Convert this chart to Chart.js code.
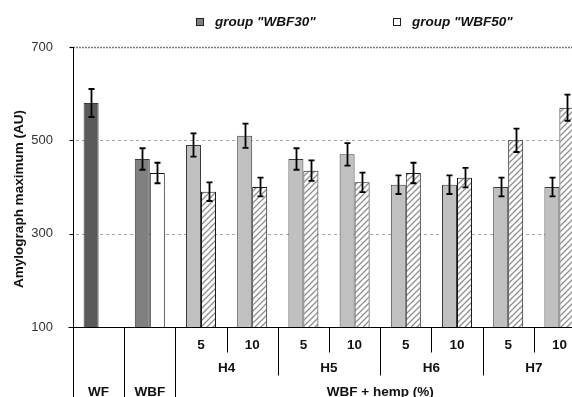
<!DOCTYPE html>
<html>
<head>
<meta charset="utf-8">
<script src="https://cdn.jsdelivr.net/npm/chart.js@4/dist/chart.umd.min.js"></script>
<style>
html,body{margin:0;padding:0;background:#fff;overflow:hidden;}
canvas{display:block;}
</style>
</head>
<body>
<canvas id="c" width="600" height="397"></canvas>
<script>
// ---- data ----
const categories = ['WF', 'WBF', 'H4', 'H4', 'H5', 'H5', 'H6', 'H6', 'H7', 'H7'];
const hempLevels = ['', '', '5', '10', '5', '10', '5', '10', '5', '10'];
const hempTypes = ['H4', 'H5', 'H6', 'H7'];
const seriesNames = ['group "WBF30"', 'group "WBF50"'];
const wbf30 = [580, 460, 490, 510, 460, 470, 405, 405, 400, 400];
const wbf30Err = [30, 23, 25, 26, 23, 24, 20, 20, 20, 20];
const wbf50 = [null, 430, 390, 400, 435, 410, 430, 420, 500, 570];
const wbf50Err = [null, 22, 20, 20, 22, 21, 22, 21, 25, 28];
const yTicks = [100, 300, 500, 700];

// ---- styles ----
const FONT = '"Liberation Sans", Arial, sans-serif';
function hatch() {
  const c = document.createElement('canvas');
  c.width = 6; c.height = 6;
  const g = c.getContext('2d');
  g.fillStyle = '#fff'; g.fillRect(0, 0, 6, 6);
  g.strokeStyle = '#8f8f8f'; g.lineWidth = 1.3;
  g.beginPath();
  g.moveTo(0, 6); g.lineTo(6, 0);
  g.moveTo(-1, 1); g.lineTo(1, -1);
  g.moveTo(5, 7); g.lineTo(7, 5);
  g.stroke();
  return g.createPattern(c, 'repeat');
}
const hatchPat = hatch();
const c30 = categories.map((c, i) => i === 0 ? '#5a5a5a' : (i === 1 ? '#808080' : '#c0c0c0'));
const c50 = categories.map((c, i) => i === 1 ? '#ffffff' : hatchPat);
const labels = categories.map((c, i) => (c + ' ' + hempLevels[i]).trim());

const decor = {
  id: 'decor',
  beforeDatasetsDraw(chart) {
    const { ctx, chartArea: a, scales: { y } } = chart;
    ctx.save();
    yTicks.forEach(v => {
      const py = Math.round(y.getPixelForValue(v)) + 0.5;
      ctx.beginPath();
      if (v === 100) return;
      if (v === 700) {
        ctx.strokeStyle = '#7a7a7a'; ctx.lineWidth = 1.6; ctx.setLineDash([2, 1]);
      } else {
        ctx.strokeStyle = '#a8a8a8'; ctx.lineWidth = 1; ctx.setLineDash([3, 3]);
      }
      ctx.moveTo(a.left - 3, py); ctx.lineTo(a.right, py); ctx.stroke();
    });
    ctx.setLineDash([]);
    ctx.restore();
  },
  afterDatasetsDraw(chart) {
    const { ctx, chartArea: a, scales: { x, y } } = chart;
    ctx.save();
    // error bars
    const errs = [wbf30Err, wbf50Err];
    chart.data.datasets.forEach((ds, di) => {
      const meta = chart.getDatasetMeta(di);
      meta.data.forEach((bar, i) => {
        const v = ds.data[i], e = errs[di][i];
        if (v == null || e == null) return;
        const bx = Math.round(bar.x) + 0.5;
        const t = y.getPixelForValue(v + e), b = y.getPixelForValue(v - e);
        ctx.strokeStyle = '#000'; ctx.lineWidth = 1.8;
        ctx.beginPath();
        ctx.moveTo(bx, t); ctx.lineTo(bx, b);
        ctx.moveTo(bx - 3, t); ctx.lineTo(bx + 3, t);
        ctx.moveTo(bx - 3, b); ctx.lineTo(bx + 3, b);
        ctx.stroke();
      });
    });
    // axes
    const by = Math.round(y.getPixelForValue(100)) + 0.5;
    const lx = Math.round(a.left) + 0.5;
    ctx.strokeStyle = '#000'; ctx.lineWidth = 1;
    ctx.beginPath();
    ctx.moveTo(lx - 5, by); ctx.lineTo(a.right, by);
    ctx.moveTo(lx, y.getPixelForValue(700)); ctx.lineTo(lx, chart.height);
    yTicks.forEach(v => {
      const py = Math.round(y.getPixelForValue(v)) + 0.5;
      ctx.moveTo(lx - 4, py); ctx.lineTo(lx, py);
    });
    ctx.stroke();
    // category separators
    const hw = (x.getPixelForValue(1) - x.getPixelForValue(0)) / 2;
    ctx.beginPath();
    for (let i = 0; i < categories.length - 1; i++) {
      const sx = Math.round(x.getPixelForValue(i) + hw) + 0.5;
      let end;
      if (i < 2) end = chart.height;
      else if (categories[i] === categories[i + 1]) end = by + 25;
      else end = by + 48;
      ctx.moveTo(sx, by); ctx.lineTo(sx, end);
    }
    ctx.stroke();
    // labels
    ctx.fillStyle = '#111';
    ctx.textAlign = 'center'; ctx.textBaseline = 'middle';
    ctx.font = 'bold 13.5px ' + FONT;
    hempLevels.forEach((l, i) => { if (l) ctx.fillText(l, x.getPixelForValue(i), by + 18); });
    hempTypes.forEach(h => {
      const idx = categories.map((c, i) => c === h ? i : -1).filter(i => i >= 0);
      const cx = (x.getPixelForValue(idx[0]) + x.getPixelForValue(idx[idx.length - 1])) / 2;
      ctx.fillText(h, cx, by + 41);
    });
    ctx.fillText('WF', x.getPixelForValue(0), by + 65);
    ctx.fillText('WBF', x.getPixelForValue(1), by + 65);
    const hx = (x.getPixelForValue(2) - hw + x.getPixelForValue(categories.length - 1) + hw) / 2;
    ctx.fillText('WBF + hemp (%)', hx, by + 65);
    // y title
    ctx.save();
    ctx.translate(19, (a.top + a.bottom) / 2 + 12);
    ctx.rotate(-Math.PI / 2);
    ctx.fillText('Amylograph maximum (AU)', 0, 0);
    ctx.restore();
    // legend
    ctx.font = 'italic bold 13.5px ' + FONT;
    ctx.textAlign = 'left';
    const leg = [[196.5, '#808080'], [393.5, '#ffffff']];
    leg.forEach((l, k) => {
      ctx.fillStyle = l[1]; ctx.fillRect(l[0], 18.5, 7, 7);
      ctx.strokeStyle = '#222'; ctx.lineWidth = 1; ctx.strokeRect(l[0], 18.5, 7, 7);
      ctx.fillStyle = '#111';
      ctx.fillText(seriesNames[k], l[0] + 18.5, 22);
    });
    ctx.restore();
  }
};

new Chart(document.getElementById('c'), {
  type: 'bar',
  data: {
    labels: labels,
    datasets: [
      { label: seriesNames[0], data: wbf30, backgroundColor: c30, borderColor: '#3a3a3a', borderWidth: 1 },
      { label: seriesNames[1], data: wbf50, backgroundColor: c50, borderColor: '#1a1a1a', borderWidth: 1 }
    ]
  },
  options: {
    responsive: false,
    animation: false,
    devicePixelRatio: 1,
    layout: { padding: { top: 47, bottom: 70, left: 0, right: 15 } },
    categoryPercentage: 0.586,
    barPercentage: 1,
    plugins: { legend: { display: false }, tooltip: { enabled: false } },
    scales: {
      x: {
        ticks: { display: false },
        grid: { display: false },
        border: { display: false },
        afterFit: s => { s.height = 0; }
      },
      y: {
        min: 100, max: 700,
        afterBuildTicks: s => { s.ticks = yTicks.map(v => ({ value: v })); },
        ticks: { padding: 12, color: '#333', font: { family: FONT, size: 13 } },
        grid: { display: false },
        border: { display: false },
        afterFit: s => { s.width = 73; }
      }
    }
  },
  plugins: [decor]
});
</script>
</body>
</html>
